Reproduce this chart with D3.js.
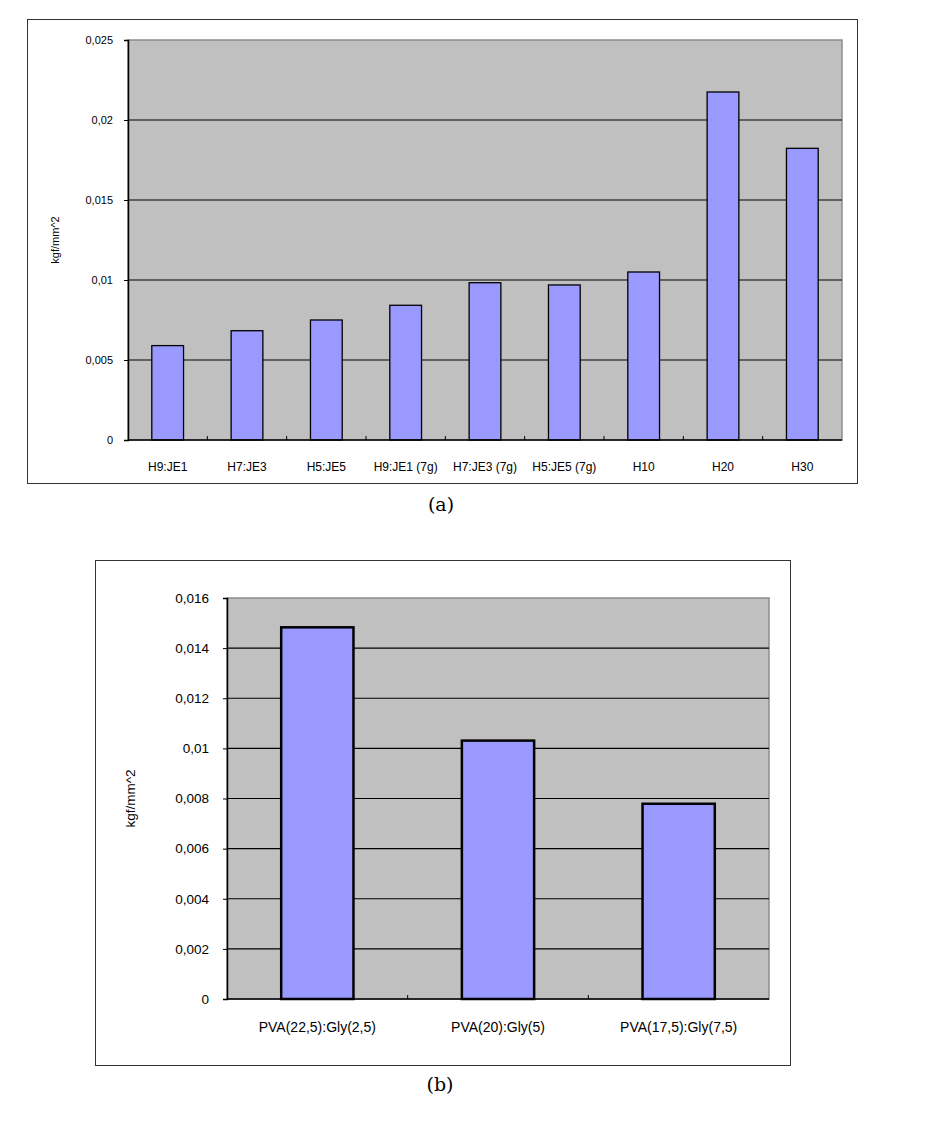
<!DOCTYPE html>
<html lang="ko">
<head>
  <meta charset="utf-8">
  <title>kgf/mm^2</title>
  <script src="https://d3js.org/d3.v7.min.js"></script>
  <style>
    body { margin: 0; background: #fff; }
    svg text { font-family: "Liberation Sans", Arial, sans-serif; fill: #000; }
    .cap { font-family: "DejaVu Serif", "Liberation Serif", serif; }
  </style>
</head>
<body>
  <div id="chart"></div>
  <script>
    // chart (a)
    const catsA = ["H9:JE1", "H7:JE3", "H5:JE5", "H9:JE1 (7g)", "H7:JE3 (7g)", "H5:JE5 (7g)", "H10", "H20", "H30"];
    const valsA = [0.0059, 0.00683, 0.0075, 0.00842, 0.00983, 0.00969, 0.0105, 0.02175, 0.01823];
    const ticksA = [0, 0.005, 0.01, 0.015, 0.02, 0.025];

    // chart (b)
    const catsB = ["PVA(22,5):Gly(2,5)", "PVA(20):Gly(5)", "PVA(17,5):Gly(7,5)"];
    const valsB = [0.01483, 0.01031, 0.00779];
    const ticksB = [0, 0.002, 0.004, 0.006, 0.008, 0.01, 0.012, 0.014, 0.016];

    const locale = d3.formatLocale({decimal: ",", thousands: ".", grouping: [3], currency: ["", ""]});
    const fmt = locale.format("~g");

    const svg = d3.select("#chart").append("svg")
        .attr("width", 928)
        .attr("height", 1130);

    function drawChart(cfg) {
        // outer frame
        svg.append("rect")
            .attr("x", cfg.box[0] + 0.5).attr("y", cfg.box[1] + 0.5)
            .attr("width", cfg.box[2] - cfg.box[0]).attr("height", cfg.box[3] - cfg.box[1])
            .attr("fill", "#fff").attr("stroke", "#333").attr("stroke-width", 1);

        const p = cfg.plot;
        const x = d3.scaleBand()
            .domain(cfg.cats)
            .range([p.left, p.right])
            .paddingInner(0.6)
            .paddingOuter(0.3);
        const step = x.step();
        const y = d3.scaleLinear()
            .domain([0, cfg.max])
            .range([p.bottom, p.top]);

        // plot background
        svg.append("rect")
            .attr("x", p.left).attr("y", p.top)
            .attr("width", p.right - p.left).attr("height", p.bottom - p.top)
            .attr("fill", "#c0c0c0").attr("stroke", "#8c8c8c").attr("stroke-width", 1.5);

        // grid lines
        svg.append("g").selectAll("line")
            .data(cfg.ticks.filter(t => t > 0 && t < cfg.max))
            .join("line")
            .attr("x1", p.left).attr("x2", p.right)
            .attr("y1", d => y(d)).attr("y2", d => y(d))
            .attr("stroke", "#000").attr("stroke-width", 1.2);

        // bars
        svg.append("g").selectAll("rect")
            .data(cfg.vals)
            .join("rect")
            .attr("x", (d, i) => x(cfg.cats[i]))
            .attr("y", d => y(d))
            .attr("width", x.bandwidth())
            .attr("height", d => y(0) - y(d))
            .attr("fill", "#9999ff")
            .attr("stroke", "#000")
            .attr("stroke-width", cfg.barStroke);

        // y axis
        const ya = svg.append("g")
            .attr("transform", `translate(${p.left},0)`)
            .call(d3.axisLeft(y).tickValues(cfg.ticks).tickFormat(fmt).tickSize(4).tickPadding(cfg.tickPad));
        ya.select(".domain").attr("stroke", "#000").attr("stroke-width", 1.5);
        ya.selectAll("text").attr("font-size", cfg.fsY + "px");

        // x axis line and category separators
        svg.append("line")
            .attr("x1", p.left).attr("x2", p.right)
            .attr("y1", p.bottom).attr("y2", p.bottom)
            .attr("stroke", "#000").attr("stroke-width", 1.5);
        svg.append("g").selectAll("line")
            .data(cfg.cats.slice(1))
            .join("line")
            .attr("x1", d => x(d) - step * 0.3).attr("x2", d => x(d) - step * 0.3)
            .attr("y1", p.bottom).attr("y2", p.bottom - 4)
            .attr("stroke", "#000");

        svg.append("g").selectAll("text")
            .data(cfg.cats)
            .join("text")
            .attr("x", d => x(d) + x.bandwidth() / 2)
            .attr("y", cfg.labelY)
            .attr("text-anchor", "middle")
            .attr("font-size", cfg.fsX + "px")
            .text(d => d);

        // y title
        svg.append("text")
            .attr("transform", `translate(${cfg.titleX},${(p.top + p.bottom) / 2}) rotate(-90)`)
            .attr("text-anchor", "middle")
            .attr("font-size", cfg.fsY + "px")
            .text("kgf/mm^2");

        // caption
        svg.append("text")
            .attr("class", "cap")
            .attr("x", cfg.cap[0]).attr("y", cfg.cap[1])
            .attr("text-anchor", "middle")
            .attr("font-size", "19px")
            .text(cfg.capText);
    }

    drawChart({
        cats: catsA, vals: valsA, ticks: ticksA, max: 0.025,
        box: [27, 19, 857, 483],
        plot: {left: 128, right: 842, top: 40, bottom: 440},
        barStroke: 1.3, fsY: 11, fsX: 12, tickPad: 11, labelY: 471, titleX: 59,
        cap: [441, 511], capText: "(a)"
    });

    drawChart({
        cats: catsB, vals: valsB, ticks: ticksB, max: 0.016,
        box: [95, 560, 790, 1065],
        plot: {left: 227, right: 769, top: 598, bottom: 999},
        barStroke: 2.5, fsY: 13.5, fsX: 14, tickPad: 14, labelY: 1032, titleX: 135,
        cap: [440, 1091], capText: "(b)"
    });
  </script>
</body>
</html>
